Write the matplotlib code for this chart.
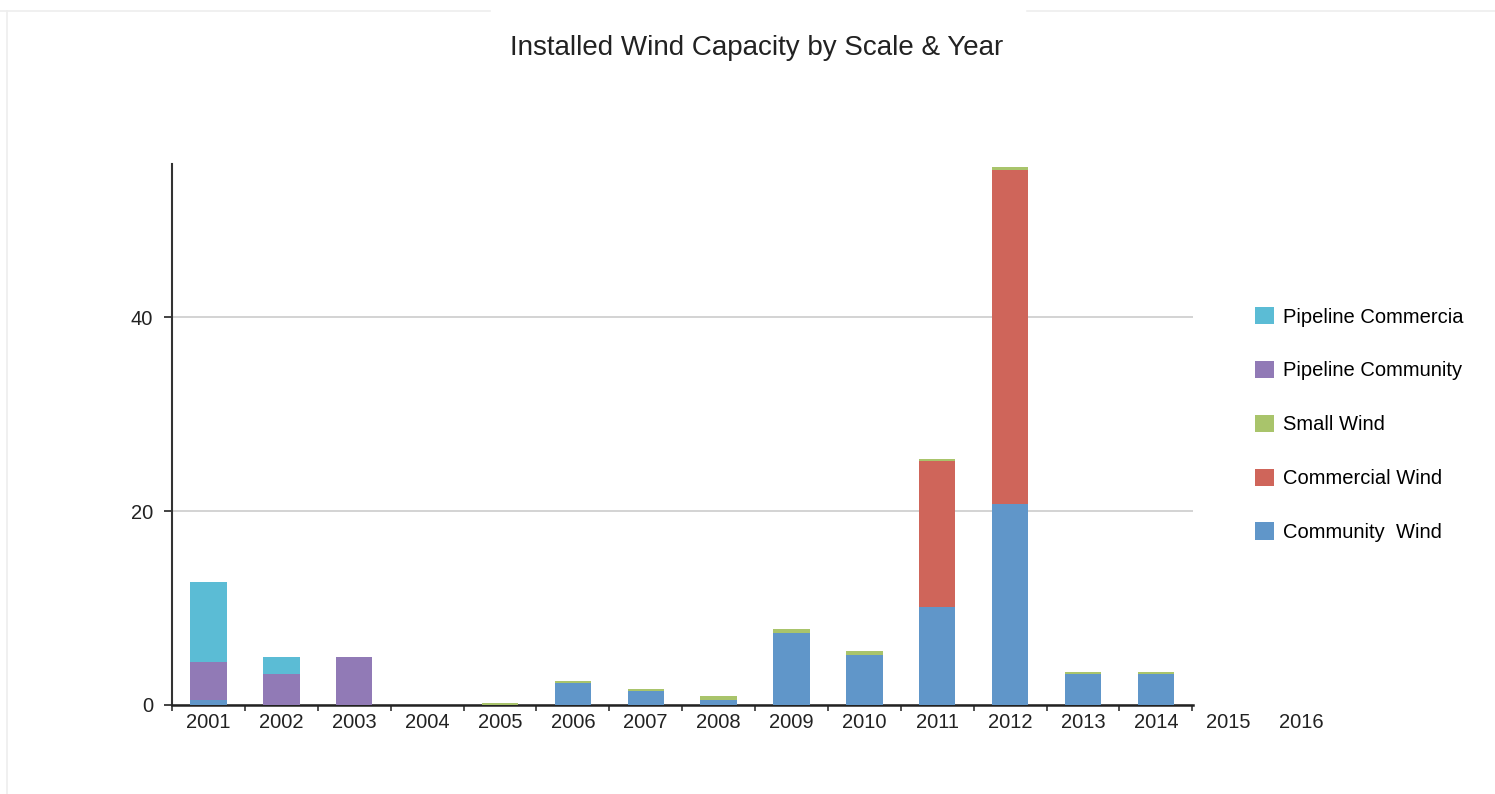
import numpy as np
import matplotlib
matplotlib.use('Agg')
import matplotlib.pyplot as plt
from matplotlib.lines import Line2D

plt.rcParams['font.family'] = ['Liberation Sans', 'DejaVu Sans']

years = ['2001', '2002', '2003', '2004', '2005', '2006', '2007',
         '2008', '2009', '2010', '2011', '2012', '2013', '2014']
extra_years = ['2015', '2016']

# stacked from the bottom up
community_wind = [0.5, 0, 0, 0, 0, 2.3, 1.45, 0.5, 7.4, 5.2, 10.1, 20.7, 3.2, 3.2]
commercial_wind = [0, 0, 0, 0, 0, 0, 0, 0, 0, 0, 15.1, 34.5, 0, 0]
small_wind = [0, 0, 0, 0, 0.2, 0.2, 0.15, 0.4, 0.4, 0.4, 0.2, 0.25, 0.2, 0.2]
pipeline_community = [3.96, 3.16, 4.9, 0, 0, 0, 0, 0, 0, 0, 0, 0, 0, 0]
pipeline_commercial = [8.25, 1.75, 0, 0, 0, 0, 0, 0, 0, 0, 0, 0, 0, 0]

series = [
    ('Community  Wind', community_wind, '#6096c9'),
    ('Commercial Wind', commercial_wind, '#cf655a'),
    ('Small Wind', small_wind, '#a9c46b'),
    ('Pipeline Community', pipeline_community, '#917ab6'),
    ('Pipeline Commercia', pipeline_commercial, '#5bbcd5'),
]

FS = 14.5

fig = plt.figure(figsize=(14.95, 7.94), dpi=100)
ax = fig.add_axes([0.1151, 0.1121, 0.798 - 0.1151, 0.7935 - 0.1121])

x = np.arange(len(years))
bottom = np.zeros(len(years))
handles = []
for name, vals, col in series:
    vals = np.array(vals, dtype=float)
    b = ax.bar(x, vals, width=0.5, bottom=bottom, color=col, label=name, zorder=3)
    handles.append(b)
    bottom += vals

ax.set_xlim(-0.46, 13.51)
ax.set_ylim(0, 55.8)
ax.set_yticks([0, 20, 40])
ax.set_xticks(x)
ax.set_xticklabels(years)
ax.set_xticks(np.arange(-0.5, 14, 1), minor=True)
ax.tick_params(axis='x', which='major', length=0, pad=6, labelsize=FS, colors='#222222')
ax.tick_params(axis='x', which='minor', length=4, direction='out', width=1.2, color='#333333')
ax.tick_params(axis='y', length=5.5, direction='out', width=1.2, pad=8, labelsize=FS,
               colors='#222222')
for lbl, xv in zip(extra_years, [14, 15]):
    ax.annotate(lbl, xy=(xv, 0), xycoords=('data', 'axes fraction'), xytext=(0, -6),
                textcoords='offset points', ha='center', va='top', fontsize=FS,
                color='#222222', annotation_clip=False)

ax.grid(True, axis='y', color='#cccccc', linewidth=1.2, zorder=0)
ax.set_axisbelow(True)
for s in ['top', 'right']:
    ax.spines[s].set_visible(False)
ax.spines['left'].set_color('#333333')
ax.spines['left'].set_linewidth(1.5)
ax.spines['bottom'].set_color('#222222')
ax.spines['bottom'].set_linewidth(1.8)

fig.text(0.506, 0.94, 'Installed Wind Capacity by Scale & Year', ha='center', va='center',
         fontsize=20, color='#222222')

fig.legend(handles[::-1], [s[0] for s in series][::-1], loc='upper left',
           bbox_to_anchor=(1255 / 1495, 1 - 307 / 794), bbox_transform=fig.transFigure,
           frameon=False, fontsize=FS, handlelength=0.95, handleheight=0.95,
           labelspacing=1.7, handletextpad=0.45, borderpad=0, borderaxespad=0)

# faint page frame
fig.add_artist(Line2D([0, 490 / 1495], [1 - 11 / 794] * 2, color='#eeeeee', lw=1.2))
fig.add_artist(Line2D([1027 / 1495, 1], [1 - 11 / 794] * 2, color='#eeeeee', lw=1.2))
fig.add_artist(Line2D([7 / 1495] * 2, [0, 1 - 11 / 794], color='#eeeeee', lw=1.2))

fig.savefig('out.png', dpi=100)
